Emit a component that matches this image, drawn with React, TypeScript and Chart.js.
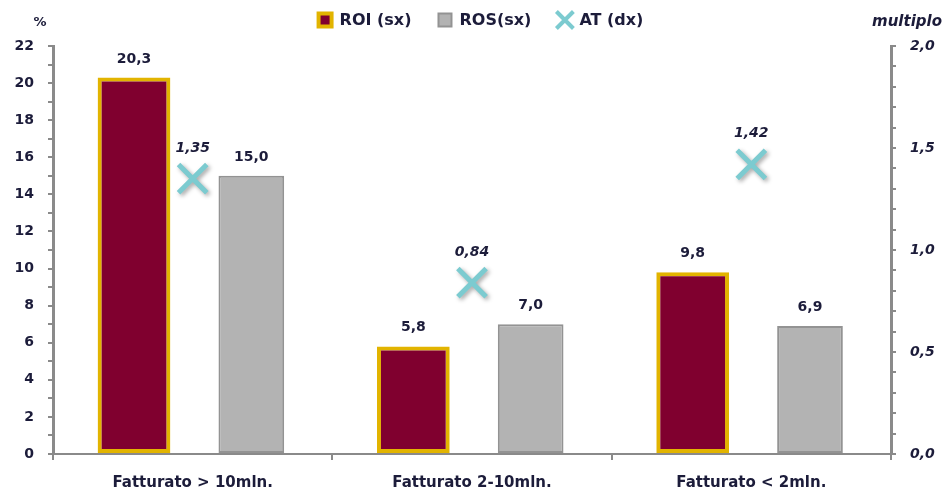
import { useEffect, useRef } from 'react';
import { Chart, registerables } from 'chart.js';

Chart.register(...registerables);

const categories = ['Fatturato > 10mln.', 'Fatturato 2-10mln.', 'Fatturato < 2mln.'];
const roiValues = [20.3, 5.8, 9.8];
const rosValues = [15.0, 7.0, 6.9];
const atValues = [1.35, 0.84, 1.42];
const seriesNames = ['ROI (sx)', 'ROS(sx)', 'AT (dx)'];
const leftAxisTitle = '%';
const rightAxisTitle = 'multiplo';

const FONT = '"DejaVu Sans", Verdana, sans-serif';
const TEXT = '#1c1c3a';
const AXIS = '#8a8a8a';
const ROI_FILL = '#80002f';
const ROI_BORDER = '#e2b400';
const ROS_FILL = '#b3b3b3';
const ROS_BORDER = '#939393';
const AT_COLOR = '#7ccbd0';

const comma = (v: number, d: number) => v.toFixed(d).replace('.', ',');

const decorPlugin = {
  id: 'decor',
  beforeDatasetDraw(chart: any, args: any) {
    const ds = chart.data.datasets[args.index];
    if (ds.type === 'line') {
      const ctx = chart.ctx;
      ctx.save();
      ctx.shadowColor = 'rgba(0,0,0,0.35)';
      ctx.shadowBlur = 4;
      ctx.shadowOffsetX = 2;
      ctx.shadowOffsetY = 2;
    }
  },
  afterDatasetDraw(chart: any, args: any) {
    const ds = chart.data.datasets[args.index];
    if (ds.type === 'line') chart.ctx.restore();
  },
  afterDatasetsDraw(chart: any) {
    const ctx = chart.ctx;
    ctx.save();
    ctx.textAlign = 'center';
    ctx.textBaseline = 'alphabetic';
    ctx.fillStyle = TEXT;
    chart.data.datasets.forEach((ds: any, i: number) => {
      const meta = chart.getDatasetMeta(i);
      meta.data.forEach((el: any, j: number) => {
        const v = ds.data[j] as number;
        if (ds.type === 'line') {
          ctx.font = `italic bold 14px ${FONT}`;
          ctx.fillText(comma(v, 2), el.x, el.y - 27);
        } else {
          ctx.font = `bold 14px ${FONT}`;
          ctx.fillText(comma(v, 1), el.x, el.y - 15);
        }
      });
    });
    ctx.restore();
  },
  afterDraw(chart: any) {
    const ctx = chart.ctx;
    const area = chart.chartArea;
    ctx.save();
    ctx.fillStyle = TEXT;
    ctx.textBaseline = 'middle';
    // axis titles
    ctx.font = `bold 13px ${FONT}`;
    ctx.textAlign = 'center';
    ctx.fillText(leftAxisTitle, area.left - 13, 23);
    ctx.font = `italic bold 15px ${FONT}`;
    ctx.textAlign = 'right';
    ctx.fillText(rightAxisTitle, chart.width - 8, 22);

    // legend
    ctx.font = `bold 16px ${FONT}`;
    ctx.textAlign = 'left';
    const iconW = 17;
    const gap = 6;
    const itemGap = 25;
    const widths = seriesNames.map((s) => iconW + gap + ctx.measureText(s).width);
    const total = widths.reduce((a, b) => a + b, 0) + itemGap * (widths.length - 1);
    let x = 480 - total / 2;
    const cy = 20;
    seriesNames.forEach((name, i) => {
      const ds = chart.data.datasets[i];
      if (i === 0) {
        ctx.fillStyle = ds.borderColor;
        ctx.fillRect(x, cy - 8.5, 17, 17);
        ctx.fillStyle = ds.backgroundColor;
        ctx.fillRect(x + 4, cy - 4.5, 9, 9);
      } else if (i === 1) {
        ctx.fillStyle = ds.borderColor;
        ctx.fillRect(x + 1, cy - 7.5, 15, 15);
        ctx.fillStyle = ds.backgroundColor;
        ctx.fillRect(x + 3, cy - 5.5, 11, 11);
      } else {
        ctx.strokeStyle = ds.borderColor;
        ctx.lineWidth = 4;
        ctx.beginPath();
        ctx.moveTo(x, cy - 8.5);
        ctx.lineTo(x + 17, cy + 8.5);
        ctx.moveTo(x + 17, cy - 8.5);
        ctx.lineTo(x, cy + 8.5);
        ctx.stroke();
      }
      ctx.fillStyle = TEXT;
      ctx.fillText(name, x + iconW + gap, cy + 1);
      x += widths[i] + itemGap;
    });
    ctx.restore();
  },
};

export default function App() {
  const ref = useRef<HTMLCanvasElement | null>(null);

  useEffect(() => {
    document.body.style.margin = '0';
    const canvas = ref.current;
    if (!canvas) return;
    const tickFont = { family: FONT, size: 14, weight: 'bold' as const };
    const chart = new Chart(canvas, {
      type: 'bar',
      data: {
        labels: categories,
        datasets: [
          {
            type: 'bar',
            label: seriesNames[0],
            data: roiValues,
            backgroundColor: ROI_FILL,
            borderColor: ROI_BORDER,
            borderWidth: 4,
            borderSkipped: false,
            yAxisID: 'y',
            categoryPercentage: 0.84,
            barPercentage: 0.62,
            order: 2,
          },
          {
            type: 'bar',
            label: seriesNames[1],
            data: rosValues,
            backgroundColor: ROS_FILL,
            borderColor: ROS_BORDER,
            borderWidth: 2,
            borderSkipped: false,
            yAxisID: 'y',
            categoryPercentage: 0.84,
            barPercentage: 0.56,
            order: 2,
          },
          {
            type: 'line',
            label: seriesNames[2],
            data: atValues,
            yAxisID: 'y1',
            showLine: false,
            borderColor: AT_COLOR,
            backgroundColor: AT_COLOR,
            pointStyle: 'crossRot',
            pointRadius: 20,
            pointBorderWidth: 5,
            pointHoverRadius: 20,
            order: 1,
          } as any,
        ],
      },
      options: {
        responsive: false,
        animation: false,
        layout: { padding: { top: 46, left: 0, right: 0, bottom: 0 } },
        plugins: {
          legend: { display: false },
          tooltip: { enabled: false },
        },
        scales: {
          x: {
            offset: true,
            grid: {
              display: true,
              drawOnChartArea: false,
              offset: true,
              tickLength: 6,
              color: AXIS,
              lineWidth: 2,
            },
            border: { color: AXIS, width: 2 },
            ticks: { font: { family: FONT, size: 15, weight: 'bold' }, color: TEXT, padding: 14 },
            afterFit: (s: any) => {
              s.height = 39;
            },
          },
          y: {
            position: 'left',
            min: 0,
            max: 22,
            grid: { drawOnChartArea: false, tickLength: 5, color: AXIS, lineWidth: 2 },
            border: { color: AXIS, width: 3 },
            ticks: {
              stepSize: 1,
              autoSkip: false,
              font: tickFont,
              color: TEXT,
              padding: 14,
              callback: (v: any) => (Math.round(v) % 2 === 0 ? String(Math.round(v)) : ''),
            },
            afterFit: (s: any) => {
              s.width = 53;
            },
          },
          y1: {
            position: 'right',
            min: 0,
            max: 2,
            grid: { drawOnChartArea: false, tickLength: 5, color: AXIS, lineWidth: 2 },
            border: { color: AXIS, width: 3 },
            ticks: {
              stepSize: 0.1,
              autoSkip: false,
              font: { family: FONT, size: 14, weight: 'bold', style: 'italic' },
              color: TEXT,
              padding: 14,
              callback: (v: any) => (Math.round(v * 10) % 5 === 0 ? comma(v, 1) : ''),
            },
            afterFit: (s: any) => {
              s.width = 59;
            },
          },
        },
      },
      plugins: [decorPlugin],
    });
    return () => chart.destroy();
  }, []);

  return (
    <div style={{ position: 'absolute', left: 0, top: 0, width: 950, height: 493 }}>
      <canvas ref={ref} width={950} height={493} />
    </div>
  );
}
